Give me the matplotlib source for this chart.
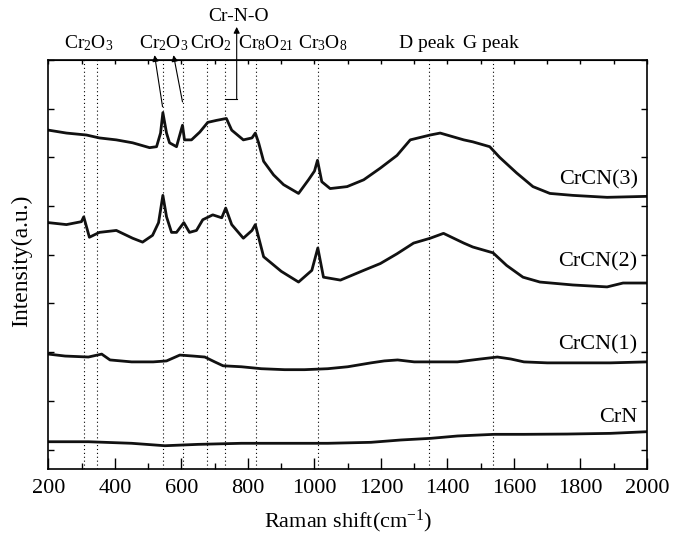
import matplotlib
matplotlib.use('Agg')
import matplotlib.pyplot as plt
from matplotlib.ticker import MultipleLocator

# Raman shift (cm-1) and intensity (a.u., stacked)
crn_x = [200, 320, 450, 550, 650, 780, 910, 1040, 1170, 1260, 1350, 1430,
         1540, 1630, 1760, 1890, 2000]
crn_y = [80, 80, 64, 39, 53, 64, 64, 64, 74, 98, 115, 139, 156, 156, 159,
         166, 183]

crcn1_x = [200, 250, 320, 360, 385, 450, 515, 555, 595, 635, 670, 700, 725,
           780, 840, 910, 970, 1040, 1100, 1170, 1210, 1250, 1300, 1370,
           1430, 1500, 1550, 1590, 1630, 1700, 1760, 1830, 1890, 2000]
crcn1_y = [980, 960, 950, 980, 920, 900, 900, 910, 970, 960, 950, 900, 860,
           850, 830, 820, 820, 830, 850, 890, 910, 920, 900, 900, 900, 930,
           950, 930, 900, 890, 890, 890, 890, 900]

crcn2_x = [200, 254, 299, 306, 323, 353, 404, 453, 483, 513, 531, 544, 555,
           570, 585, 607, 624, 645, 664, 694, 721, 733, 751, 786, 812, 822,
           847, 900, 952, 992, 1010, 1027, 1078, 1148, 1198, 1248, 1298,
           1348, 1388, 1449, 1476, 1537, 1578, 1627, 1678, 1777, 1880, 1928,
           2000]
crcn2_y = [2330, 2310, 2340, 2390, 2180, 2230, 2250, 2170, 2130, 2200, 2330,
           2610, 2390, 2230, 2230, 2330, 2230, 2250, 2360, 2410, 2380, 2480,
           2310, 2170, 2250, 2310, 1980, 1830, 1720, 1840, 2070, 1770, 1740,
           1840, 1910, 2010, 2120, 2170, 2220, 2120, 2080, 2020, 1890, 1770,
           1720, 1690, 1670, 1710, 1710]

crcn3_x = [200, 254, 314, 353, 404, 453, 504, 525, 537, 544, 555, 564, 585,
           603, 609, 630, 655, 679, 705, 735, 751, 786, 812, 822, 832, 847,
           877, 907, 952, 982, 1000, 1009, 1022, 1047, 1098, 1148, 1198,
           1248, 1288, 1348, 1378, 1449, 1476, 1527, 1557, 1608, 1657, 1708,
           1777, 1880, 2000]
crcn3_y = [3280, 3250, 3230, 3200, 3180, 3150, 3100, 3110, 3250, 3460, 3250,
           3150, 3110, 3330, 3180, 3180, 3260, 3360, 3380, 3400, 3280, 3180,
           3200, 3250, 3150, 2960, 2820, 2720, 2630, 2770, 2860, 2970, 2750,
           2680, 2700, 2770, 2890, 3020, 3180, 3230, 3250, 3180, 3160, 3110,
           3000, 2840, 2700, 2630, 2610, 2590, 2600]

series_names = ['CrCN(3)', 'CrCN(2)', 'CrCN(1)', 'CrN']
name_y = [2768, 1926, 1073, 334]

# reference band positions (dotted lines)
bands = [308, 347, 544, 604, 678, 730, 823, 1011, 1345, 1538]
band_labels = [r'Cr$_\mathrm{2}$O$_\mathrm{3}$', r'Cr$_\mathrm{2}$O$_\mathrm{3}$',
               r'CrO$_\mathrm{2}$', r'Cr$_\mathrm{8}$O$_\mathrm{21}$',
               r'Cr$_\mathrm{3}$O$_\mathrm{8}$', 'D peak', 'G peak']
band_label_x = [320, 548, 689, 855, 1025, 1338, 1531]

plt.rcParams['font.family'] = ['Liberation Serif', 'DejaVu Serif']
plt.rcParams['mathtext.fontset'] = 'custom'
plt.rcParams['mathtext.rm'] = 'Liberation Serif'
plt.rcParams['mathtext.it'] = 'Liberation Serif:italic'

fig = plt.figure(figsize=(6.84, 5.36), dpi=100)
ax = fig.add_axes([0.0709, 0.125, 0.875, 0.763])

for b in bands:
    ax.axvline(b, color='k', ls=(0, (1, 2.5)), lw=0.8)

for xs, ys in [(crcn3_x, crcn3_y), (crcn2_x, crcn2_y),
               (crcn1_x, crcn1_y), (crn_x, crn_y)]:
    ax.plot(xs, ys, color='#111111', lw=2.0)

for name, yy in zip(series_names, name_y):
    ax.text(1972, yy, name, ha='right', va='center', fontsize=16)

for lab, lx in zip(band_labels, band_label_x):
    ax.text(lx, 4120, lab, ha='center', va='baseline', fontsize=14, clip_on=False)
ax.text(770, 4400, 'Cr-N-O', ha='center', va='baseline', fontsize=14, clip_on=False)

arrow = dict(arrowstyle='-|>', color='k', lw=0.8, shrinkA=0, shrinkB=0,
             mutation_scale=9)
ax.annotate('', xy=(519, 4050), xytext=(543, 3520), arrowprops=arrow,
            annotation_clip=False)
ax.annotate('', xy=(576, 4050), xytext=(603, 3570), arrowprops=arrow,
            annotation_clip=False)
ax.plot([730, 766], [3600, 3600], color='k', lw=0.8, clip_on=False)
ax.annotate('', xy=(766, 4340), xytext=(766, 3600), arrowprops=arrow,
            annotation_clip=False)

ax.set_xlim(200, 2000)
ax.set_ylim(-200, 4000)
ax.xaxis.set_major_locator(MultipleLocator(200))
ax.xaxis.set_minor_locator(MultipleLocator(100))
ax.yaxis.set_major_locator(MultipleLocator(500))
ax.set_yticklabels([])
ax.tick_params(axis='x', which='major', direction='in', length=8, width=1,
               labelsize=16, pad=7)
ax.tick_params(axis='x', which='minor', direction='in', length=4, width=1)
ax.tick_params(axis='y', which='both', direction='in', length=4, width=1,
               left=True, right=True)

top = ax.secondary_xaxis('top')
top.xaxis.set_major_locator(MultipleLocator(100))
top.tick_params(direction='in', length=3, width=1, labeltop=False)

for s in ax.spines.values():
    s.set_linewidth(1.2)

ax.set_xlabel(r'Raman shift(cm$^\mathrm{-1}$)', fontsize=16)
ax.set_ylabel('Intensity(a.u.)', fontsize=17)
ax.xaxis.set_label_coords(0.5, -0.095)
ax.yaxis.set_label_coords(-0.027, 0.51)

fig.savefig('out.png', dpi=100)
